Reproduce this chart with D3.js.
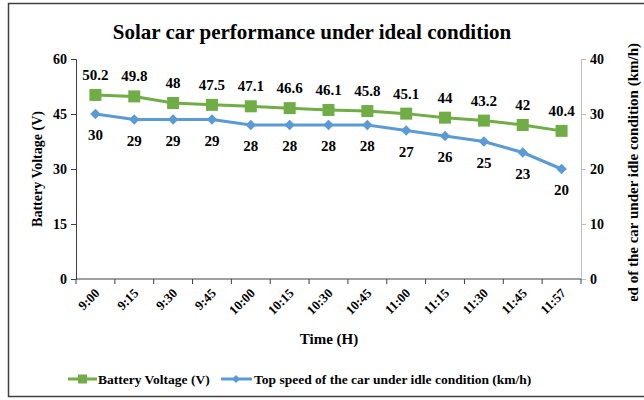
<!DOCTYPE html>
<html>
  <head>
    <meta charset="utf-8" />
    <title>Solar car performance</title>
    <script src="https://d3js.org/d3.v7.min.js"></script>
    <style>
        body {margin: 0; background: #fff;}
        svg text {font-family: "Liberation Serif", "Times New Roman", serif; font-weight: bold; fill: #000;}
    </style>
  </head>
  <body>

    <svg id="chart" width="644" height="400"></svg>

    <script>

        var times = ["9:00", "9:15", "9:30", "9:45", "10:00", "10:15", "10:30",
                     "10:45", "11:00", "11:15", "11:30", "11:45", "11:57"];
        var voltage = [50.2, 49.8, 48, 47.5, 47.1, 46.6, 46.1, 45.8, 45.1, 44, 43.2, 42, 40.4];
        var speed = [30, 29, 29, 29, 28, 28, 28, 28, 27, 26, 25, 23, 20];
        var voltTicks = [0, 15, 30, 45, 60];
        var speedTicks = [0, 10, 20, 30, 40];

        var green = "#70AD47", blue = "#5B9BD5";
        var plotLeft = 76, plotRight = 581, plotTop = 59, plotBottom = 279;

        var svg = d3.select("#chart");

        // outer border
        svg.append("rect")
            .attr("x", 8.5).attr("y", 3.5)
            .attr("width", 640).attr("height", 393)
            .attr("fill", "none").attr("stroke", "#404040").attr("stroke-width", 1.5);

        var x = d3.scaleBand().domain(times).range([plotLeft, plotRight]).padding(0);
        var yL = d3.scaleLinear().domain([0, 60]).range([plotBottom, plotTop]);
        var yR = d3.scaleLinear().domain([0, 40]).range([plotBottom, plotTop]);
        var cx = function(d){ return x(d) + x.bandwidth() / 2; };

        // title
        svg.append("text")
            .attr("x", 312).attr("y", 39)
            .attr("text-anchor", "middle")
            .style("font-size", "21px")
            .text("Solar car performance  under ideal condition");

        // left axis
        var gL = svg.append("g").attr("transform", "translate(" + plotLeft + ",0)")
            .call(d3.axisLeft(yL).tickValues(voltTicks).tickSize(5).tickPadding(4));
        gL.select(".domain").attr("stroke", "#404040");
        gL.selectAll(".tick line").attr("stroke", "#404040");
        gL.selectAll(".tick text").style("font-size", "14px").attr("dy", "0.35em");

        // right axis
        var gR = svg.append("g").attr("transform", "translate(" + plotRight + ",0)")
            .call(d3.axisRight(yR).tickValues(speedTicks).tickSize(5).tickPadding(4));
        gR.select(".domain").attr("stroke", "#BFBFBF");
        gR.selectAll(".tick line").attr("stroke", "#BFBFBF");
        gR.selectAll(".tick text").style("font-size", "14px").attr("dy", "0.35em");

        // bottom axis, ticks between categories
        var gB = svg.append("g").attr("transform", "translate(0," + plotBottom + ")");
        gB.append("line")
            .attr("x1", plotLeft).attr("x2", plotRight)
            .attr("stroke", "#404040");
        gB.selectAll(".tk")
            .data(times.map(function(d){ return x(d); }).concat([plotRight]))
            .enter().append("line")
            .attr("class", "tk")
            .attr("x1", function(d){ return d; }).attr("x2", function(d){ return d; })
            .attr("y1", 0).attr("y2", 5)
            .attr("stroke", "#404040");
        gB.selectAll(".lbl")
            .data(times)
            .enter().append("text")
            .attr("class", "lbl")
            .attr("text-anchor", "end")
            .style("font-size", "13px")
            .attr("transform", function(d){
                return "translate(" + (cx(d) + 5) + ",15) rotate(-45)";
            })
            .text(function(d){ return d; });

        // axis titles
        svg.append("text")
            .attr("transform", "translate(42," + ((plotTop + plotBottom) / 2) + ") rotate(-90)")
            .attr("text-anchor", "middle")
            .style("font-size", "14px")
            .text("Battery Voltage (V)");

        svg.append("clipPath").attr("id", "rclip")
            .append("rect").attr("x", 600).attr("y", 0).attr("width", 60).attr("height", 301);
        svg.append("g")
            .attr("clip-path", "url(#rclip)")
            .append("text")
            .attr("transform", "translate(638,43) rotate(-90)")
            .attr("text-anchor", "end")
            .style("font-size", "15px")
            .text("Speed of the car under idle condition (km/h)");

        svg.append("text")
            .attr("x", 329).attr("y", 344)
            .attr("text-anchor", "middle")
            .style("font-size", "15px")
            .text("Time (H)");

        // series data
        var voltData = times.map(function(t, i){ return {t: t, v: voltage[i]}; });
        var speedData = times.map(function(t, i){ return {t: t, v: speed[i]}; });

        // voltage series
        svg.append("path")
            .datum(voltData)
            .attr("fill", "none").attr("stroke", green).attr("stroke-width", 3)
            .attr("d", d3.line().x(function(d){ return cx(d.t); }).y(function(d){ return yL(d.v); }));

        svg.selectAll(".vm")
            .data(voltData)
            .enter().append("rect")
            .attr("class", "vm")
            .attr("x", function(d){ return cx(d.t) - 6; })
            .attr("y", function(d){ return yL(d.v) - 6; })
            .attr("width", 12).attr("height", 12)
            .attr("fill", green);

        svg.selectAll(".vl")
            .data(voltData)
            .enter().append("text")
            .attr("class", "vl")
            .attr("x", function(d){ return cx(d.t); })
            .attr("y", function(d){ return yL(d.v) - 15; })
            .attr("text-anchor", "middle")
            .style("font-size", "15px")
            .text(function(d){ return d.v; });

        // speed series
        svg.append("path")
            .datum(speedData)
            .attr("fill", "none").attr("stroke", blue).attr("stroke-width", 3)
            .attr("d", d3.line().x(function(d){ return cx(d.t); }).y(function(d){ return yR(d.v); }));

        svg.selectAll(".sm")
            .data(speedData)
            .enter().append("path")
            .attr("class", "sm")
            .attr("transform", function(d){ return "translate(" + cx(d.t) + "," + yR(d.v) + ")"; })
            .attr("d", d3.symbol().type(d3.symbolDiamond2).size(70))
            .attr("fill", blue);

        svg.selectAll(".sl")
            .data(speedData)
            .enter().append("text")
            .attr("class", "sl")
            .attr("x", function(d){ return cx(d.t); })
            .attr("y", function(d){ return yR(d.v) + 26; })
            .attr("text-anchor", "middle")
            .style("font-size", "15px")
            .text(function(d){ return d.v; });

        // legend
        var legend = svg.append("g").attr("transform", "translate(0,379)");
        legend.append("line").attr("x1", 68).attr("x2", 97)
            .attr("stroke", green).attr("stroke-width", 3);
        legend.append("rect").attr("x", 78).attr("y", -4.5).attr("width", 9).attr("height", 9)
            .attr("fill", green);
        legend.append("text").attr("x", 98).attr("y", 5)
            .style("font-size", "13.5px").text("Battery Voltage (V)");

        legend.append("line").attr("x1", 221).attr("x2", 252)
            .attr("stroke", blue).attr("stroke-width", 3);
        legend.append("path").attr("transform", "translate(236,0)")
            .attr("d", d3.symbol().type(d3.symbolDiamond2).size(40))
            .attr("fill", blue);
        legend.append("text").attr("x", 254).attr("y", 5)
            .style("font-size", "13.5px").text("Top speed of the car under idle condition (km/h)");

    </script>

  </body>
</html>
